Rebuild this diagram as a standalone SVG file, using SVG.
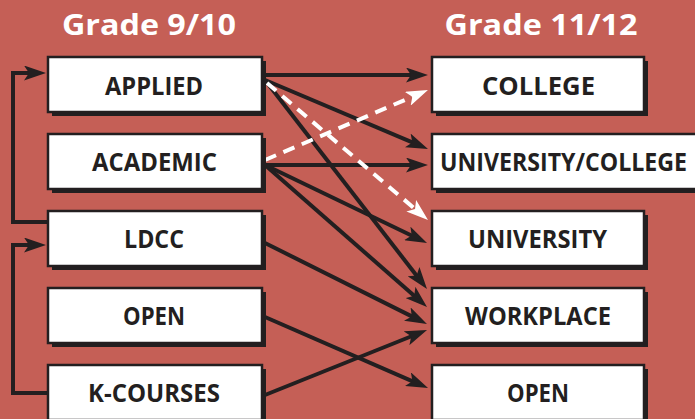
<svg xmlns="http://www.w3.org/2000/svg" width="695" height="419" viewBox="0 0 695 419">
<style>
.bg{fill:#c55f56}
.shadow{fill:#231f20}
.box{fill:#ffffff;stroke:#231f20;stroke-width:2.5}
.lbl{font-family:"Open Sans","DejaVu Sans",sans-serif;font-weight:bold;font-size:25.5px;fill:#231f20;text-anchor:middle}
.title{font-family:"Open Sans","DejaVu Sans",sans-serif;font-weight:bold;font-size:28px;fill:#ffffff;text-anchor:middle}
.blk{stroke:#231f20;stroke-width:4;fill:none;marker-end:url(#ab)}
.wht{stroke:#ffffff;stroke-width:4;fill:none;stroke-dasharray:12 8;marker-end:url(#aw)}
</style>
<defs>
<marker id="ab" markerUnits="userSpaceOnUse" markerWidth="22" markerHeight="15" refX="14" refY="7.5" orient="auto">
<path d="M0,0 L22,7.5 L0,15 L5,7.5 Z" fill="#231f20"/>
</marker>
<marker id="aw" markerUnits="userSpaceOnUse" markerWidth="22" markerHeight="15" refX="14" refY="7.5" orient="auto">
<path d="M0,0 L22,7.5 L0,15 L5,7.5 Z" fill="#ffffff"/>
</marker>
</defs>
<rect class="bg" x="0" y="0" width="695" height="419"/>
<text class="title" x="149" y="35" textLength="174" lengthAdjust="spacingAndGlyphs">Grade 9/10</text>
<text class="title" x="541" y="35" textLength="193" lengthAdjust="spacingAndGlyphs">Grade 11/12</text>

<g id="connectors">
<path class="blk" d="M265,75 L420,75"/>
<path class="blk" d="M265,80 L420.6,145.9"/>
<path class="blk" d="M265,80 L422.1,282.7"/>
<path class="blk" d="M265,165 L420,165"/>
<path class="blk" d="M265,165 L419.8,239.5"/>
<path class="blk" d="M265,165 L421,301.7"/>
<path class="blk" d="M265,243 L419.8,320.4"/>
<path class="blk" d="M265,317 L420.7,384.8"/>
<path class="blk" d="M265,395 L419.6,333"/>
<path class="wht" d="M267,83 L421.9,214.8"/>
<path class="wht" d="M265,160 L420.6,93.2"/>
<path class="blk" d="M48,222 H13 V73 H38"/>
<path class="blk" d="M48,393 H13 V245 H38"/>
</g>

<g id="n-applied">
<rect class="shadow" x="52" y="61" width="214" height="55"/>
<rect class="box" x="48" y="57" width="214" height="55"/>
<text class="lbl" x="154" y="95" textLength="98" lengthAdjust="spacingAndGlyphs">APPLIED</text>
</g>
<g id="n-academic">
<rect class="shadow" x="52" y="138" width="214" height="55"/>
<rect class="box" x="48" y="134" width="214" height="55"/>
<text class="lbl" x="154.5" y="171" textLength="125" lengthAdjust="spacingAndGlyphs">ACADEMIC</text>
</g>
<g id="n-ldcc">
<rect class="shadow" x="52" y="215" width="214" height="55"/>
<rect class="box" x="48" y="211" width="214" height="55"/>
<text class="lbl" x="154" y="248" textLength="60" lengthAdjust="spacingAndGlyphs">LDCC</text>
</g>
<g id="n-open-left">
<rect class="shadow" x="52" y="292" width="214" height="55"/>
<rect class="box" x="48" y="288" width="214" height="55"/>
<text class="lbl" x="154" y="325" textLength="62" lengthAdjust="spacingAndGlyphs">OPEN</text>
</g>
<g id="n-kcourses">
<rect class="shadow" x="52" y="369" width="214" height="55"/>
<rect class="box" x="48" y="365" width="214" height="55"/>
<text class="lbl" x="154" y="402" textLength="132" lengthAdjust="spacingAndGlyphs">K-COURSES</text>
</g>

<g id="n-college">
<rect class="shadow" x="436" y="61" width="212" height="55"/>
<rect class="box" x="432" y="57" width="212" height="55"/>
<text class="lbl" x="538.5" y="95" textLength="113" lengthAdjust="spacingAndGlyphs">COLLEGE</text>
</g>
<g id="n-univcollege">
<rect class="shadow" x="436" y="138" width="280" height="55"/>
<rect class="box" x="432" y="134" width="280" height="55"/>
<text class="lbl" x="563.5" y="171" textLength="247" lengthAdjust="spacingAndGlyphs">UNIVERSITY/COLLEGE</text>
</g>
<g id="n-university">
<rect class="shadow" x="436" y="215" width="212" height="55"/>
<rect class="box" x="432" y="211" width="212" height="55"/>
<text class="lbl" x="537.5" y="248" textLength="139" lengthAdjust="spacingAndGlyphs">UNIVERSITY</text>
</g>
<g id="n-workplace">
<rect class="shadow" x="436" y="292" width="212" height="55"/>
<rect class="box" x="432" y="288" width="212" height="55"/>
<text class="lbl" x="538" y="325" textLength="146" lengthAdjust="spacingAndGlyphs">WORKPLACE</text>
</g>
<g id="n-open-right">
<rect class="shadow" x="436" y="369" width="212" height="55"/>
<rect class="box" x="432" y="365" width="212" height="55"/>
<text class="lbl" x="538" y="402" textLength="62" lengthAdjust="spacingAndGlyphs">OPEN</text>
</g>
</svg>
